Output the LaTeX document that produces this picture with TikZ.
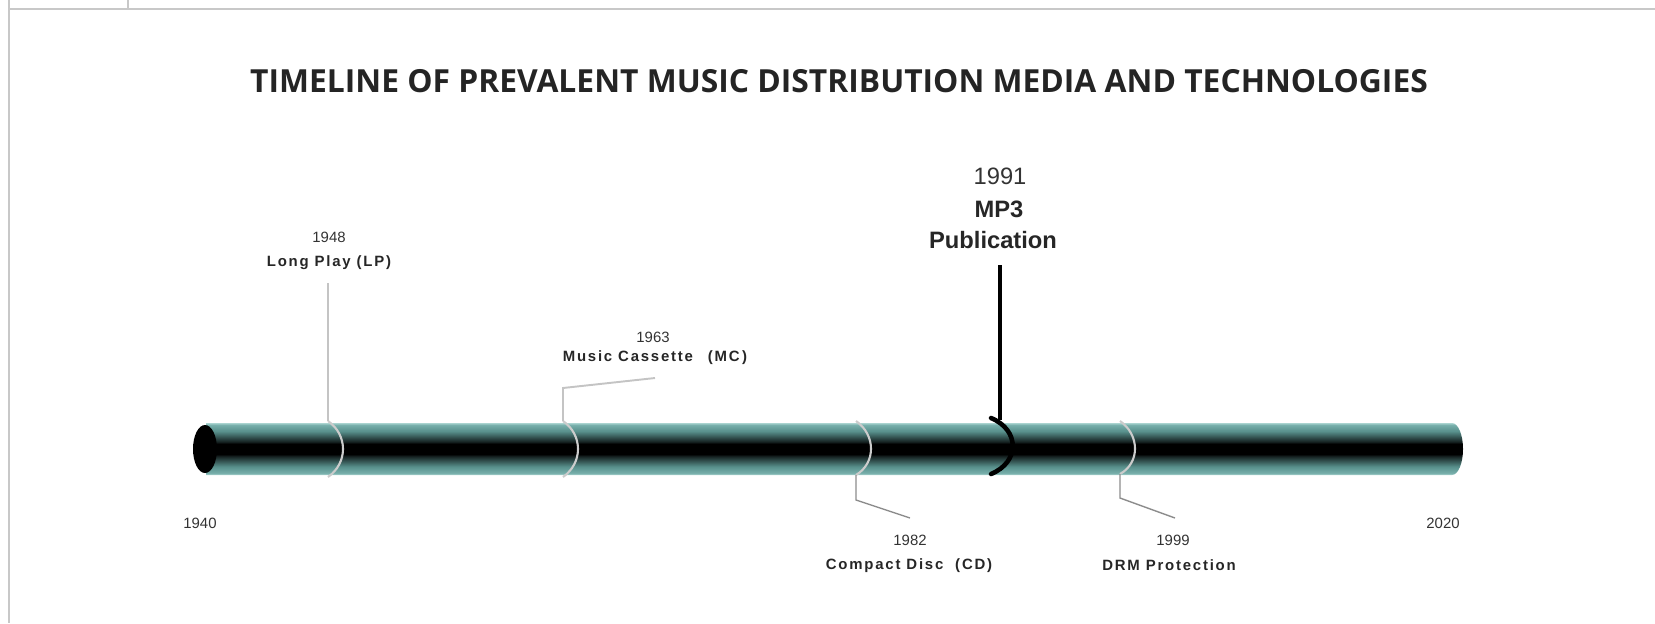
\documentclass[tikz,border=0pt]{standalone}
\usepackage{fontspec}
\setmainfont{Liberation Sans}
\newfontfamily\headfont{Open Sans}
\newfontfamily\spacedfont{Liberation Sans}[LetterSpace=12]
\usetikzlibrary{positioning}
\definecolor{frame_gray}{RGB}{200,200,200}
\definecolor{tube_edge}{RGB}{170,212,208}
\definecolor{tube_light}{RGB}{118,174,170}
\definecolor{tube_teal}{RGB}{88,144,140}
\definecolor{tube_dark}{RGB}{22,34,34}
\definecolor{lead_light}{RGB}{196,196,196}
\definecolor{lead_dark}{RGB}{140,140,140}
\definecolor{head_ink}{RGB}{36,36,36}
\pgfdeclareverticalshading{tube_shade}{100bp}{color(0bp)=(tube_edge); color(25bp)=(tube_edge);
    color(27bp)=(tube_light); color(33bp)=(tube_teal); color(43bp)=(tube_dark); color(45bp)=(black);
    color(55bp)=(black); color(57bp)=(tube_dark); color(67bp)=(tube_teal); color(73bp)=(tube_light);
    color(75bp)=(tube_edge); color(100bp)=(tube_edge)}
\tikzset{
    frame_line/.style={draw=frame_gray, line width=1.6pt},
    tube_body/.style={shading=tube_shade},
    tick_arc/.style={draw=gray!40, line width=1.2pt},
    tick_arc_main/.style={draw=black, line width=2.6pt, line cap=round},
    lead_up/.style={draw=lead_light, line width=1.1pt},
    lead_down/.style={draw=lead_dark, line width=0.8pt},
    lead_main/.style={draw=black, line width=2.3pt},
    head_lbl/.style={font=\headfont\fontsize{18.1}{21}\selectfont\bfseries, text=head_ink, inner sep=0pt},
    yr_lbl/.style={font=\fontsize{8.5}{10}\selectfont, text=black!80, inner sep=1pt},
    evt_lbl/.style={font=\spacedfont\fontsize{8.5}{10}\selectfont\bfseries, text=black!85, inner sep=1pt},
    yr_big/.style={font=\fontsize{13.5}{16}\selectfont, text=black!80, inner sep=1pt},
    evt_big/.style={font=\fontsize{13.5}{16}\selectfont\bfseries, text=black!85, inner sep=1pt}
}
\begin{document}
\begin{tikzpicture}[x=0.02cm, y=-0.02cm]
    \useasboundingbox (0,0) rectangle (1655,623);
    \draw[frame_line] (9,0) -- (9,623);
    \draw[frame_line] (9,9) -- (1655,9);
    \draw[frame_line] (128,0) -- (128,9);

    \node[head_lbl] (title) at (839,81) {TIMELINE OF PREVALENT MUSIC DISTRIBUTION MEDIA AND TECHNOLOGIES};

    \shade[tube_body] (206,423) -- (1452,423) arc[start angle=-90, end angle=90, x radius=11, y radius=26] -- (206,475) -- cycle;
    \fill[black] (205,449) ellipse [x radius=12, y radius=24];

    \coordinate (t_lp) at (328,421);
    \coordinate (t_mc) at (563,421);
    \coordinate (t_cd) at (856,421);
    \coordinate (t_mp3) at (991,418);
    \coordinate (t_drm) at (1120,421);

    \draw[tick_arc] (t_lp) .. controls (348,435) and (348,463) .. (328,477);
    \draw[tick_arc] (t_mc) .. controls (583,435) and (583,463) .. (563,477);
    \draw[tick_arc] (t_cd) .. controls (876,435) and (876,463) .. (856,475);
    \draw[tick_arc_main] (t_mp3) .. controls (1020,430) and (1020,462) .. (991,474);
    \draw[tick_arc] (t_drm) .. controls (1140,435) and (1140,463) .. (1120,474);

    \node[yr_lbl] (y1940) at (200,523) {1940};
    \node[yr_lbl] (y2020) at (1443,523) {2020};

    \node[yr_lbl] (y1948) at (329,237) {1948};
    \node[evt_lbl] (lp) at (329,263) {Long Play (LP)};
    \node[yr_lbl] (y1963) at (653,337) {1963};
    \node[evt_lbl] (mc) at (655,358) {Music Cassette\quad(MC\,)};
    \node[yr_lbl] (y1982) at (910,540) {1982};
    \node[evt_lbl] (cd) at (909,566) {Compact Disc~~(CD)};
    \node[yr_big] (y1991) at (1000,176) {1991};
    \node[evt_big] (mp3) at (999,209) {MP3};
    \node[evt_big] (pub) at (993,240) {Publication};
    \node[yr_lbl] (y1999) at (1173,540) {1999};
    \node[evt_lbl] (drm) at (1169,565) {DRM Protection};

    \coordinate (e_lp) at (328,283);
    \coordinate (k_mc) at (563,388);
    \coordinate (e_mc) at (655,378);
    \coordinate (k_cd) at (856,500);
    \coordinate (e_cd) at (910,518);
    \coordinate (k_drm) at (1120,498);
    \coordinate (e_drm) at (1175,518);
    \coordinate (a_mp3) at (1000,265);
    \coordinate (b_mp3) at (1000,420);

    \draw[lead_up] (t_lp) -- (e_lp);
    \draw[lead_up] (t_mc) -- (k_mc) -- (e_mc);
    \draw[lead_down] (856,475) -- (k_cd) -- (e_cd);
    \draw[lead_down] (1120,474) -- (k_drm) -- (e_drm);
    \draw[lead_main] (a_mp3) -- (b_mp3);
\end{tikzpicture}
\end{document}
